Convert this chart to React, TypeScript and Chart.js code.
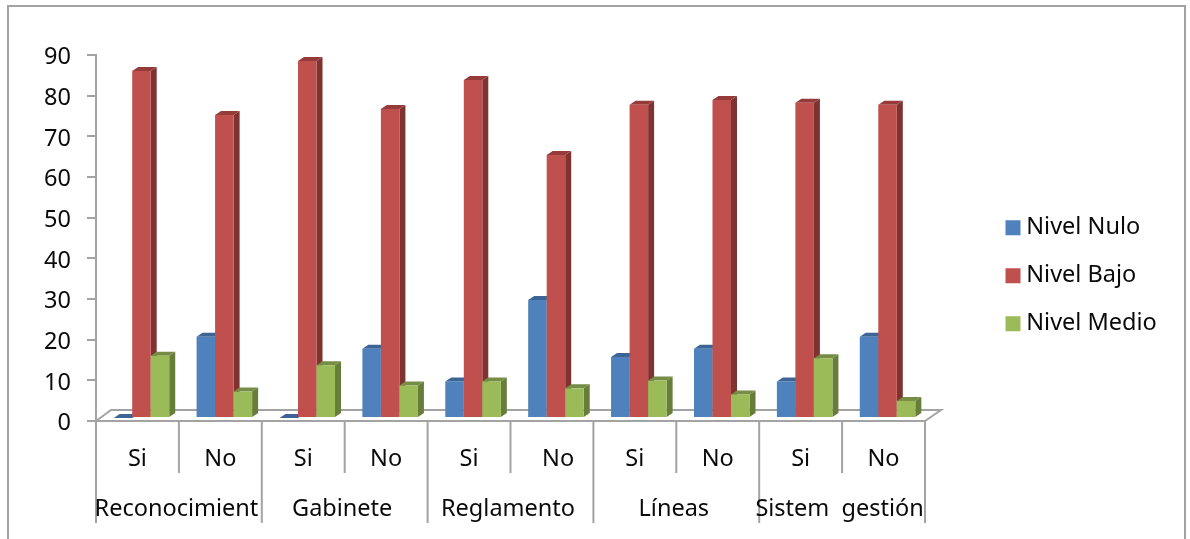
import React, { useEffect, useRef } from "react";
import { Chart, registerables } from "chart.js";

Chart.register(...registerables);

const answers = ["Si", "No", "Si", "No", "Si", "  No", "Si", "No", "Si", "No"];
const groups = ["Reconocimient", "Gabinete", "Reglamento", "Líneas", "Sistem  gestión"];
const nivelNulo = [0, 20, 0, 17, 9, 29, 15, 17, 9, 20];
const nivelBajo = [85.3, 74.5, 87.8, 76, 83.1, 64.7, 77, 78.2, 77.5, 77];
const nivelMedio = [15.3, 6.5, 13, 8, 9, 7.3, 9.2, 5.8, 14.7, 4.2];
const yTicksMax = 90;

const FONT = "'Noto Sans', sans-serif";
const FONT_SIZE = 23.5;
const AXIS = "#a3a3a3";
const TEXT = "#0a0a0a";

// Face, side and top tones of the extruded columns, one triple per series.
const tones = [
  { face: "#4f81bd", side: "#385d8a", top: "#3c6595" },
  { face: "#c0504d", side: "#7f3331", top: "#953b39" },
  { face: "#9bbb59", side: "#677d3a", top: "#758d44" },
];

const DEPTH_X = 6;
const DEPTH_Y = 4;
const FLOOR_DX = 15;
const FLOOR_DY = 11;
const SHIFT_X = 4;
const SHIFT_Y = -3;

const polygon = (ctx: CanvasRenderingContext2D, pts: number[][], fill: string) => {
  ctx.beginPath();
  pts.forEach(([x, y], i) => (i ? ctx.lineTo(x, y) : ctx.moveTo(x, y)));
  ctx.closePath();
  ctx.fillStyle = fill;
  ctx.fill();
};

// Places the legend in the free column at the right of the plot.
const legendPlacement = {
  id: "legendPlacement",
  afterLayout(chart: any) {
    const l = chart.legend;
    if (!l) return;
    l.left = 987;
    l.right = 1190;
    l.top = 191.5;
    l.bottom = 539;
    l.width = l.right - l.left;
    l.height = l.bottom - l.top;
  },
};

// Outer frame, open at the bottom edge of the page.
const frame = {
  id: "frame",
  beforeDraw(chart: any) {
    const { ctx, width, height } = chart;
    ctx.save();
    ctx.strokeStyle = AXIS;
    ctx.lineWidth = 2;
    ctx.beginPath();
    ctx.moveTo(8, height);
    ctx.lineTo(8, 6);
    ctx.lineTo(width - 5, 6);
    ctx.lineTo(width - 5, height);
    ctx.stroke();
    ctx.restore();
  },
};

// Floor of the plot plus the columns with their side and top faces.
const columns3d = {
  id: "columns3d",
  beforeDatasetsDraw(chart: any) {
    const { ctx, chartArea } = chart;
    const { left, right, bottom } = chartArea;

    ctx.save();
    ctx.strokeStyle = AXIS;
    ctx.lineWidth = 2;
    ctx.beginPath();
    ctx.moveTo(left, bottom);
    ctx.lineTo(left + FLOOR_DX, bottom - FLOOR_DY);
    ctx.lineTo(right + FLOOR_DX + 1, bottom - FLOOR_DY);
    ctx.lineTo(right, bottom);
    ctx.stroke();

    ctx.translate(SHIFT_X, SHIFT_Y);
    chart.data.datasets.forEach((_: any, d: number) => {
      const meta = chart.getDatasetMeta(d);
      meta.data.forEach((bar: any) => {
        const { x, y, base, width } = bar.getProps(["x", "y", "base", "width"], true);
        const l = x - width / 2;
        const r = x + width / 2;
        polygon(ctx, [[r, y], [r + DEPTH_X, y - DEPTH_Y], [r + DEPTH_X, base - DEPTH_Y], [r, base]], tones[d].side);
        polygon(ctx, [[l, y], [l + DEPTH_X, y - DEPTH_Y], [r + DEPTH_X, y - DEPTH_Y], [r, y]], tones[d].top);
        bar.draw(ctx);
      });
    });
    ctx.restore();
    return false;
  },
};

// Two-level category axis: separators and the lower row of group names.
const groupAxis = {
  id: "groupAxis",
  afterDraw(chart: any) {
    const { ctx, chartArea, scales } = chart;
    const x = scales.x;
    const step = x.getPixelForValue(1) - x.getPixelForValue(0);
    const edge = (i: number) => x.getPixelForValue(0) - step / 2 + i * step;
    ctx.save();
    ctx.strokeStyle = AXIS;
    ctx.lineWidth = 2;
    ctx.beginPath();
    for (let i = 0; i <= answers.length; i++) {
      ctx.moveTo(edge(i), chartArea.bottom);
      ctx.lineTo(edge(i), chartArea.bottom + (i % 2 ? 52 : 102));
    }
    ctx.stroke();
    ctx.fillStyle = TEXT;
    ctx.font = `${FONT_SIZE}px ${FONT}`;
    ctx.textAlign = "center";
    ctx.textBaseline = "middle";
    groups.forEach((g, i) => {
      ctx.fillText(g, edge(i * 2 + 1) - 2.5, chartArea.bottom + 88);
    });
    ctx.restore();
  },
};

const App = () => {
  const ref = useRef<HTMLCanvasElement>(null);

  useEffect(() => {
    document.body.style.margin = "0";
    const chart = new Chart(ref.current!, {
      type: "bar",
      data: {
        labels: answers,
        datasets: [
          { label: "Nivel Nulo", data: nivelNulo, backgroundColor: tones[0].face, borderWidth: 0 },
          { label: "Nivel Bajo", data: nivelBajo, backgroundColor: tones[1].face, borderWidth: 0 },
          { label: "Nivel Medio", data: nivelMedio, backgroundColor: tones[2].face, borderWidth: 0 },
        ],
      },
      options: {
        animation: false,
        responsive: false,
        categoryPercentage: 0.67,
        barPercentage: 1,
        layout: { padding: { left: 0, top: 55, right: 265, bottom: 0 } },
        plugins: {
          tooltip: { enabled: false },
          legend: {
            position: "chartArea",
            align: "start",
            labels: {
              usePointStyle: true,
              pointStyle: "rect",
              boxWidth: 3,
              boxHeight: 15,
              padding: 24.5,
              color: TEXT,
              font: { family: FONT, size: FONT_SIZE },
            },
          },
        },
        scales: {
          x: {
            grid: { display: false },
            border: { color: AXIS, width: 2 },
            ticks: {
              color: TEXT,
              font: { family: FONT, size: FONT_SIZE },
              autoSkip: false,
              maxRotation: 0,
              padding: 16,
            },
            afterFit: (s: any) => {
              s.height = 118;
            },
          },
          y: {
            min: 0,
            max: yTicksMax,
            ticks: {
              stepSize: 10,
              color: TEXT,
              font: { family: FONT, size: FONT_SIZE },
              padding: 16,
              labelOffset: 2.5,
            },
            grid: { drawOnChartArea: false, color: AXIS, lineWidth: 2, tickLength: 9 },
            border: { color: AXIS, width: 2 },
            afterFit: (s: any) => {
              s.width = 96;
            },
          },
        },
      } as any,
      plugins: [frame, legendPlacement, columns3d, groupAxis],
    });
    return () => chart.destroy();
  }, []);

  return <canvas ref={ref} width={1190} height={539} style={{ display: "block" }} />;
};

export default App;
